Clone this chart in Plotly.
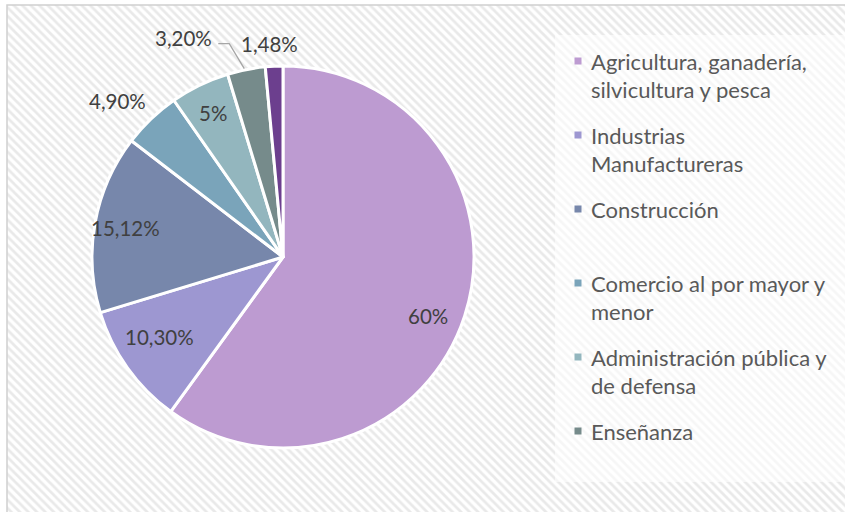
import math
import plotly.graph_objects as go

# ---------------- data ----------------
categories = [
    "Agricultura, ganadería, silvicultura y pesca",
    "Industrias Manufactureras",
    "Construcción",
    "Comercio al por mayor y menor",
    "Administración pública y de defensa",
    "Enseñanza",
    "Otros",
]
legend_lines = [
    ["Agricultura, ganadería,", "silvicultura y pesca"],
    ["Industrias", "Manufactureras"],
    ["Construcción"],
    ["Comercio al por mayor y", "menor"],
    ["Administración pública y", "de defensa"],
    ["Enseñanza"],
]
values = [60, 10.30, 15.12, 4.90, 5, 3.20, 1.48]
colors = ["#bd9bd1", "#9d97d1", "#7787ab", "#7aa4ba", "#93b6be", "#768b8b", "#6c3f8e"]

# ---------------- layout constants (screen pixels) ----------------
W, H = 845, 512
cx, cy, R = 283, 257, 191
FONT = "Lato"
LABEL_COLOR = "#404040"
LEGEND_COLOR = "#595959"
LABEL_SIZE = 20.5
LEGEND_SIZE = 22

def fmt(v):
    if abs(v - round(v)) < 1e-9:
        return f"{int(round(v))}%"
    return f"{v:.2f}".replace(".", ",") + "%"

fig = go.Figure()

# hatched background
fig.add_trace(go.Scatter(
    x=[7, W + 5, W + 5, 7, 7], y=[5, 5, H + 5, H + 5, 5],
    mode="lines", line=dict(width=0), fill="toself",
    fillcolor="white",
    fillpattern=dict(shape="\\", fgcolor="#d4d4d4", bgcolor="white", size=6, solidity=0.45),
    hoverinfo="skip", showlegend=False,
))
# lighter legend box
fig.add_trace(go.Scatter(
    x=[555, W + 5, W + 5, 555, 555], y=[35, 35, 482, 482, 35],
    mode="lines", line=dict(width=0), fill="toself",
    fillcolor="rgba(255,255,255,0.6)", hoverinfo="skip", showlegend=False,
))

# pie
fig.add_trace(go.Pie(
    labels=categories, values=values, sort=False, direction="clockwise", rotation=0,
    marker=dict(colors=colors, line=dict(color="white", width=3)),
    textinfo="none", hoverinfo="label+value", showlegend=False,
    domain=dict(x=[(cx - R) / W, (cx + R) / W],
                y=[(H - cy - R) / H, (H - cy + R) / H]),
))

# data labels computed from slice angles
total = sum(values)
label_style = [  # (radius factor, angle tweak in degrees, leader)
    (0.82, 4.0, False),
    (0.77, 2.5, False),
    (0.84, 0.0, False),
    (1.19, -3.0, False),
    (0.84, 0.0, False),
    (1.0, 0.0, True),
    (1.12, -1.0, False),
]
annotations = []
shapes = []
cum = 0.0
for i, v in enumerate(values):
    mid = (cum + v / 2) / total * 2 * math.pi
    cum += v
    rf, dang, leader = label_style[i]
    ex = cx + R * math.sin(mid)
    ey = cy - R * math.cos(mid)
    if leader:
        p1 = (ex - 17, ey - 26)
        p2 = (ex - 28, ey - 26)
        shapes.append(dict(type="path", xref="x", yref="y",
                           path=f"M {ex - 2},{ey - 1} L {p1[0]},{p1[1]} L {p2[0]},{p2[1]}",
                           line=dict(color="#a6a6a6", width=1.3)))
        annotations.append(dict(x=p2[0] - 4, y=p2[1] - 6, xref="x", yref="y", text=fmt(v),
                                showarrow=False, xanchor="right", yanchor="middle",
                                font=dict(family=FONT, size=LABEL_SIZE, color=LABEL_COLOR)))
        continue
    a = mid + math.radians(dang)
    tx = cx + rf * R * math.sin(a)
    ty = cy - rf * R * math.cos(a)
    annotations.append(dict(x=tx, y=ty, xref="x", yref="y", text=fmt(v), showarrow=False,
                            xanchor="center", yanchor="middle",
                            font=dict(family=FONT, size=LABEL_SIZE, color=LABEL_COLOR)))

# chart frame
shapes.append(dict(type="rect", xref="x", yref="y", x0=7, x1=W + 10, y0=5, y1=H + 10,
                   fillcolor="rgba(0,0,0,0)", line=dict(color="#d0d0d0", width=1.5), layer="above"))

# custom legend (first six categories)
LX_MARK, LX_TEXT, LY0, SLOT, LINE = 578, 589, 61, 74.0, 28
mx, my, mc = [], [], []
for i, lines in enumerate(legend_lines):
    y0 = LY0 + i * SLOT
    mx.append(LX_MARK); my.append(y0); mc.append(colors[i])
    for j, t in enumerate(lines):
        annotations.append(dict(x=LX_TEXT, y=y0 + j * LINE, xref="x", yref="y", text=t,
                                showarrow=False, xanchor="left", yanchor="middle",
                                font=dict(family=FONT, size=LEGEND_SIZE, color=LEGEND_COLOR)))
fig.add_trace(go.Scatter(x=mx, y=my, mode="markers",
                         marker=dict(symbol="square", size=7, color=mc, line=dict(width=0)),
                         hoverinfo="skip", showlegend=False))

fig.update_layout(
    width=W, height=H, margin=dict(l=0, r=0, t=0, b=0),
    paper_bgcolor="white", plot_bgcolor="rgba(0,0,0,0)",
    xaxis=dict(range=[0, W], domain=[0, 1], visible=False, fixedrange=True),
    yaxis=dict(range=[H, 0], domain=[0, 1], visible=False, fixedrange=True),
    shapes=shapes, annotations=annotations, showlegend=False,
)
fig.write_html(
    "out.html",
    config={"displayModeBar": False},
    post_script="document.body.style.margin='0';document.body.style.overflow='hidden';",
)
